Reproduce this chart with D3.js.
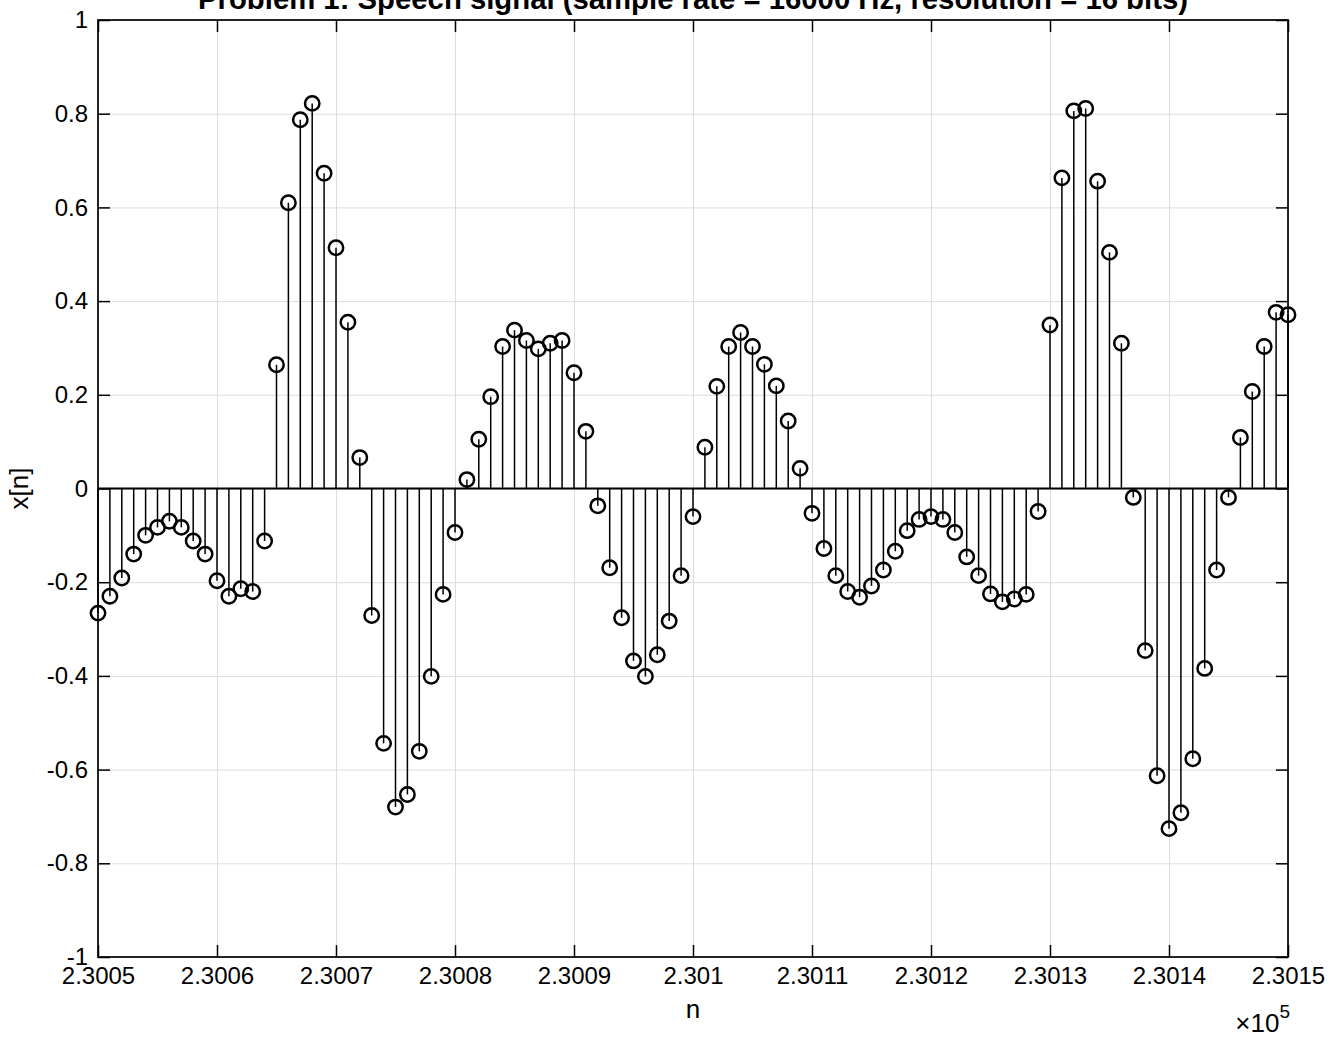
<!DOCTYPE html>
<html>
<head>
<meta charset="utf-8">
<script src="https://cdn.jsdelivr.net/npm/d3@7/dist/d3.min.js"></script>
<style>
  html, body { margin: 0; padding: 0; background: #fff; }
  svg { display: block; }
  text { font-family: "Liberation Sans", Arial, Helvetica, sans-serif; fill: #000; }
</style>
</head>
<body>
<svg id="chart" width="1331" height="1042"></svg>
<script>
// ---- data ----
const sampleIndex = [
  230050,230051,230052,230053,230054,230055,230056,230057,230058,230059,
  230060,230061,230062,230063,230064,230065,230066,230067,230068,230069,
  230070,230071,230072,230073,230074,230075,230076,230077,230078,230079,
  230080,230081,230082,230083,230084,230085,230086,230087,230088,230089,
  230090,230091,230092,230093,230094,230095,230096,230097,230098,230099,
  230100,230101,230102,230103,230104,230105,230106,230107,230108,230109,
  230110,230111,230112,230113,230114,230115,230116,230117,230118,230119,
  230120,230121,230122,230123,230124,230125,230126,230127,230128,230129,
  230130,230131,230132,230133,230134,230135,230136,230137,230138,230139,
  230140,230141,230142,230143,230144,230145,230146,230147,230148,230149,
  230150
];
const signalValues = [
  -0.266,-0.230,-0.191,-0.140,-0.100,-0.083,-0.070,-0.083,-0.112,-0.140,
  -0.197,-0.230,-0.214,-0.220,-0.112, 0.264, 0.610, 0.787, 0.822, 0.673,
   0.514, 0.355, 0.066,-0.271,-0.544,-0.680,-0.653,-0.561,-0.401,-0.226,
  -0.094, 0.019, 0.105, 0.196, 0.303, 0.338, 0.316, 0.298, 0.310, 0.316,
   0.247, 0.122,-0.037,-0.169,-0.276,-0.368,-0.401,-0.355,-0.283,-0.186,
  -0.060, 0.088, 0.218, 0.303, 0.333, 0.303, 0.265, 0.219, 0.144, 0.043,
  -0.053,-0.128,-0.186,-0.220,-0.232,-0.208,-0.174,-0.134,-0.090,-0.066,
  -0.060,-0.066,-0.094,-0.146,-0.186,-0.225,-0.242,-0.236,-0.226,-0.049,
   0.349, 0.663, 0.806, 0.811, 0.656, 0.504, 0.310,-0.019,-0.346,-0.613,
  -0.726,-0.692,-0.577,-0.384,-0.174,-0.019, 0.109, 0.207, 0.303, 0.376,
   0.371
];
const xTickValues = [230050,230060,230070,230080,230090,230100,230110,230120,230130,230140,230150];
const xTickLabels = ["2.3005","2.3006","2.3007","2.3008","2.3009","2.301","2.3011","2.3012","2.3013","2.3014","2.3015"];
const yTickValues = [-1,-0.8,-0.6,-0.4,-0.2,0,0.2,0.4,0.6,0.8,1];
const yTickLabels = ["-1","-0.8","-0.6","-0.4","-0.2","0","0.2","0.4","0.6","0.8","1"];
const titleText = "Problem 1: Speech signal (sample rate = 16000 Hz, resolution = 16 bits)";
const xLabelText = "n";
const yLabelText = "x[n]";

// ---- layout ----
const W = 1331, H = 1042;
const margin = { left: 98, right: 43, top: 20, bottom: 85 };
const iw = W - margin.left - margin.right;
const ih = H - margin.top - margin.bottom;

const svg = d3.select("#chart");
const g = svg.append("g").attr("transform", `translate(${margin.left},${margin.top})`);

const x = d3.scaleLinear().domain([230050, 230150]).range([0, iw]);
const y = d3.scaleLinear().domain([-1, 1]).range([ih, 0]);

// grid
const gridX = g.append("g").attr("transform", `translate(0,${ih})`)
  .call(d3.axisBottom(x).tickValues(xTickValues).tickSize(-ih).tickFormat(""));
const gridY = g.append("g")
  .call(d3.axisLeft(y).tickValues(yTickValues).tickSize(-iw).tickFormat(""));
[gridX, gridY].forEach(a => {
  a.select(".domain").remove();
  a.selectAll("line").attr("stroke", "#dcdcdc").attr("stroke-width", 1);
});

// stems
g.append("g").selectAll("line").data(sampleIndex).join("line")
  .attr("x1", d => x(d)).attr("x2", d => x(d))
  .attr("y1", y(0)).attr("y2", (d, i) => y(signalValues[i]))
  .attr("stroke", "#000").attr("stroke-width", 1.5);

// baseline
g.append("line").attr("x1", 0).attr("x2", iw).attr("y1", y(0)).attr("y2", y(0))
  .attr("stroke", "#000").attr("stroke-width", 1.8);

// markers
g.append("g").selectAll("circle").data(sampleIndex).join("circle")
  .attr("cx", d => x(d)).attr("cy", (d, i) => y(signalValues[i]))
  .attr("r", 7.2).attr("fill", "none").attr("stroke", "#000").attr("stroke-width", 2.5);

// axes with inward ticks
const tickLen = 12;
const fontTick = 24;
const axB = g.append("g").attr("transform", `translate(0,${ih})`)
  .call(d3.axisBottom(x).tickValues(xTickValues).tickSize(-tickLen).tickPadding(10)
    .tickFormat((d, i) => xTickLabels[i]));
const axT = g.append("g")
  .call(d3.axisTop(x).tickValues(xTickValues).tickSize(-tickLen).tickFormat(""));
const axL = g.append("g")
  .call(d3.axisLeft(y).tickValues(yTickValues).tickSize(-tickLen).tickPadding(10)
    .tickFormat((d, i) => yTickLabels[i]));
const axR = g.append("g").attr("transform", `translate(${iw},0)`)
  .call(d3.axisRight(y).tickValues(yTickValues).tickSize(-tickLen).tickFormat(""));
[axB, axT, axL, axR].forEach(a => {
  a.select(".domain").remove();
  a.selectAll("line").attr("stroke", "#000").attr("stroke-width", 1.5);
  a.selectAll("text").attr("font-size", fontTick).attr("font-family", "Liberation Sans, Arial, sans-serif").attr("fill", "#000");
});

// box
g.append("rect").attr("x", 0).attr("y", 0).attr("width", iw).attr("height", ih)
  .attr("fill", "none").attr("stroke", "#000").attr("stroke-width", 1.7);

// title
svg.append("text").attr("x", margin.left + iw / 2).attr("y", 9)
  .attr("text-anchor", "middle").attr("font-size", 29.3).attr("font-weight", "bold")
  .text(titleText);

// axis labels
svg.append("text").attr("x", margin.left + iw / 2).attr("y", 1018)
  .attr("text-anchor", "middle").attr("font-size", 26).text(xLabelText);
svg.append("text").attr("transform", `translate(28,${margin.top + ih / 2}) rotate(-90)`)
  .attr("text-anchor", "middle").attr("font-size", 26).text(yLabelText);

// exponent
const ex = svg.append("text").attr("x", margin.left + iw + 2).attr("y", 1032)
  .attr("text-anchor", "end").attr("font-size", 26);
ex.append("tspan").text("\u00d710");
ex.append("tspan").attr("font-size", 19).attr("dy", -14).text("5");
</script>
</body>
</html>
